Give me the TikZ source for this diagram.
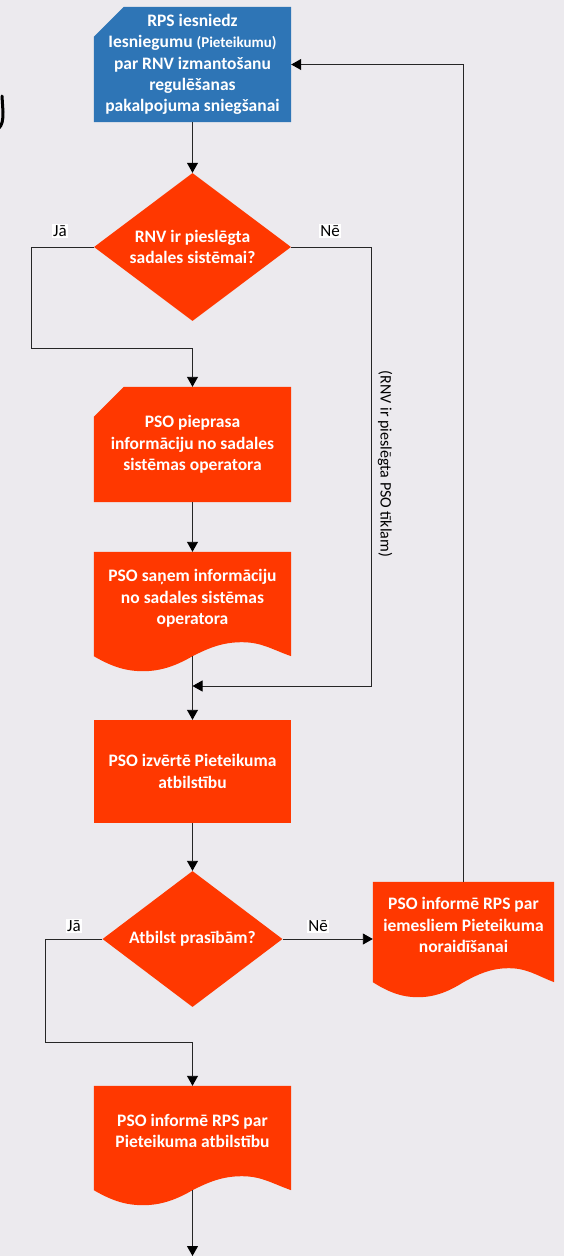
\documentclass[tikz,border=0pt]{standalone}
\usepackage{fontspec}
\setmainfont{Carlito}
\usetikzlibrary{arrows.meta,calc,shapes.geometric,backgrounds}
\definecolor{bgc}{HTML}{ECEAEE}
\definecolor{orangered}{HTML}{FF3800}
\definecolor{bluebox}{HTML}{2E75B6}
\newcommand\wpt[2]{($(\tikzlastnode.south west)!#1!(\tikzlastnode.south east)+(0,#2)$)}
\newcommand\lift[1]{\begin{tabular}{@{}c@{}}#1\\[10pt]\end{tabular}}
\tikzset{
  x=1pt,y=-1pt,
  boxtext/.style={font=\bfseries\fontsize{17.5}{21.3}\selectfont,text=white,align=center,inner sep=0pt},
  procbox/.style={boxtext,fill=orangered,minimum width=197pt,minimum height=103pt},
  snipbox/.style={boxtext,minimum width=197pt,minimum height=115pt,append after command={
    \pgfextra{\begin{pgfonlayer}{background}
      \fill[#1] ($(\tikzlastnode.north west)+(0,30)$) -- ($(\tikzlastnode.north west)+(30,0)$) -- (\tikzlastnode.north east) -- (\tikzlastnode.south east) -- (\tikzlastnode.south west) -- cycle;
    \end{pgfonlayer}}}},
  docbox/.style={boxtext,minimum height=100pt,append after command={
    \pgfextra{\begin{pgfonlayer}{background}
      \fill[orangered] (\tikzlastnode.north west) -- (\tikzlastnode.north east) -- (\tikzlastnode.south east)
        .. controls \wpt{.9}{-7} and \wpt{.85}{-14} .. \wpt{.75}{-14}
        .. controls \wpt{.65}{-14} and \wpt{.58}{-8} .. \wpt{.5}{0}
        .. controls \wpt{.43}{8} and \wpt{.35}{15} .. \wpt{.25}{15}
        .. controls \wpt{.15}{15} and \wpt{.08}{9} .. (\tikzlastnode.south west) -- cycle;
    \end{pgfonlayer}}}},
  decision/.style={boxtext,shape=diamond,shape aspect=1.33,fill=orangered,inner sep=0pt},
  link/.style={draw=black!85,line width=0.9pt,-{Triangle[width=11pt,length=10pt,color=black]}},
  plain/.style={draw=black!85,line width=0.9pt},
  tag/.style={font=\fontsize{17}{20}\selectfont,text=black,fill=white,inner sep=1pt},
  sidetag/.style={font=\fontsize{16}{18}\selectfont,text=black,inner sep=0pt},
}
\begin{document}
\begin{tikzpicture}
\useasboundingbox (0,0) rectangle (564,1256);
\begin{pgfonlayer}{background}
\fill[bgc] (0,0) rectangle (564,1256);
\end{pgfonlayer}
\draw[line width=3pt,line cap=round] (2,96) -- (3,112) .. controls (3,121) and (2,125) .. (-1,128);

\node[snipbox=bluebox] (a) at (192.5,64.5) {RPS iesniedz\\Iesniegumu {\fontsize{15}{21.3}\selectfont(Pieteikumu)}\\par RNV izmantošanu\\regulēšanas\\pakalpojuma sniegšanai};
\node[decision,minimum width=197pt,minimum height=148pt] (b) at (192.5,247) {RNV ir pieslēgta\\sadales sistēmai?};
\node[snipbox=orangered] (c) at (192.5,444.5) {PSO pieprasa\\informāciju no sadales\\sistēmas operatora};
\node[docbox,minimum width=197pt,minimum height=104pt] (d) at (192.5,604) {\lift{PSO saņem informāciju\\no sadales sistēmas\\operatora}};
\coordinate (j) at (192.5,686);
\node[procbox] (e) at (192.5,771.5) {PSO izvērtē Pieteikuma\\atbilstību};
\node[decision,minimum width=180pt,minimum height=136pt] (f) at (192.5,939) {Atbilst prasībām?};
\node[docbox,minimum width=181pt,minimum height=100pt] (g) at (463.5,932) {\lift{PSO informē RPS par\\iemesliem Pieteikuma\\noraidīšanai}};
\node[docbox,minimum width=197pt,minimum height=104pt] (h) at (192.5,1138) {\lift{PSO informē RPS par\\Pieteikuma atbilstību}};
\coordinate (end) at (192.5,1256);
\coordinate (p1) at (31.5,348);
\coordinate (p2) at (371,686);
\coordinate (p3) at (45,1042);

\draw[link] (a) -- (b);
\draw[link] (b.west) -| (p1) -| (c.north);
\draw[link] (b.east) -| (p2) -- (j);
\draw[link] (c) -- (d);
\draw[plain] (d.south) -- (j);
\draw[link] (j) -- (e);
\draw[link] (e) -- (f);
\draw[link] (f.east) -- (f.east -| g.west);
\draw[link] (g.north) |- (a.east);
\draw[link] (f.west) -| (p3) -| (h.north);
\draw[link] (h.south) -- (end);

\node[tag] (t1) at (60,231) {Jā};
\node[tag] (t2) at (330,231) {Nē};
\node[tag] (t3) at (74,926) {Jā};
\node[tag] (t4) at (318,926) {Nē};
\node[sidetag,rotate=-90] (t5) at (385,464) {(RNV ir pieslēgta PSO tīklam)};
\end{tikzpicture}
\end{document}
